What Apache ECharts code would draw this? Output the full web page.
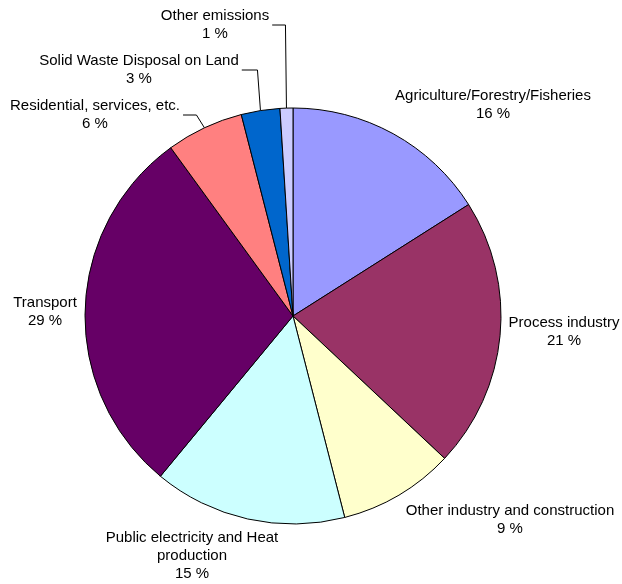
<!DOCTYPE html>
<html>
<head>
<meta charset="utf-8">
<script src="https://cdn.jsdelivr.net/npm/echarts@6/dist/echarts.min.js"></script>
<style>
  html, body { margin: 0; padding: 0; background: #ffffff; }
  #chart { width: 622px; height: 584px; }
</style>
</head>
<body>
<div id="chart"></div>
<script>
// Emission sources, listed clockwise from 12 o'clock
const categories = [
  'Agriculture/Forestry/Fisheries',
  'Process industry',
  'Other industry and construction',
  'Public electricity and Heat\nproduction',
  'Transport',
  'Residential, services, etc.',
  'Solid Waste Disposal on Land',
  'Other emissions'
];
// Share of total emissions, percent
const shares = [16, 21, 9, 15, 29, 6, 3, 1];
const sliceColors = ['#9999FF', '#993366', '#FFFFCC', '#CCFFFF', '#660066', '#FF8080', '#0066CC', '#CCCCFF'];

// Pie geometry and label placement
const pieCentre = [293, 316];
const pieRadius = 208;
const labelCentres = [[493, 105], [564, 332], [510, 520], [192, 556], [45, 312], [95, 115], [139, 70], [215, 25]];
const leaderTilt = [null, null, null, null, null, 8, 3, 1];

const total = shares.reduce((a, b) => a + b, 0);

// Point on the rim at the middle of slice i
function rimPoint(i) {
  let before = 0;
  for (let k = 0; k < i; k++) before += shares[k];
  const theta = 2 * Math.PI * (before + shares[i] / 2) / total;
  return [pieCentre[0] + pieRadius * Math.sin(theta), pieCentre[1] - pieRadius * Math.cos(theta)];
}

const chart = echarts.init(document.getElementById('chart'), null, { renderer: 'canvas' });
chart.setOption({
  backgroundColor: '#ffffff',
  animation: false,
  series: [{
    type: 'pie',
    center: pieCentre,
    radius: pieRadius,
    startAngle: 90,
    clockwise: true,
    avoidLabelOverlap: false,
    emphasis: { disabled: true },
    itemStyle: { borderColor: '#000000', borderWidth: 1 },
    label: {
      show: true,
      position: 'outside',
      formatter: '{b}\n{c} %',
      fontFamily: '"Liberation Sans", Arial, sans-serif',
      fontSize: 15,
      lineHeight: 18,
      color: '#000000',
      align: 'center'
    },
    labelLine: { show: false, lineStyle: { color: '#000000', width: 1 } },
    labelLayout: function (p) {
      const i = p.dataIndex;
      const x = labelCentres[i][0];
      const y = labelCentres[i][1];
      const out = { x: x, y: y, align: 'center', verticalAlign: 'middle' };
      if (leaderTilt[i] != null) {
        const e = rimPoint(i);
        const endX = x + p.labelRect.width / 2 + 3;
        out.labelLinePoints = [[e[0], e[1]], [e[0] - leaderTilt[i], y], [endX, y]];
      }
      return out;
    },
    data: categories.map((name, i) => ({
      name: name,
      value: shares[i],
      itemStyle: { color: sliceColors[i] },
      labelLine: { show: leaderTilt[i] != null }
    }))
  }]
});
</script>
</body>
</html>
